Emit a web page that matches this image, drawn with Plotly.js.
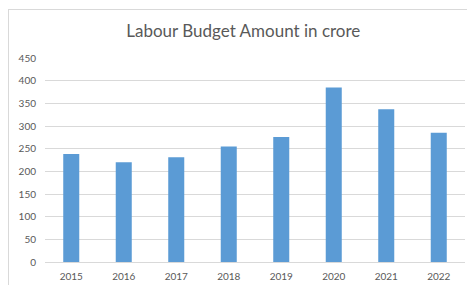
<!DOCTYPE html>
<html><head><meta charset="utf-8">
<script src="https://cdn.plot.ly/plotly-3.0.1.min.js"></script>
<style>
html,body{margin:0;padding:0;background:#fff;overflow:hidden;}
#wrap{position:absolute;left:0;top:0;width:467px;height:285px;}
#frame{position:absolute;left:8px;top:9px;width:470px;height:290px;border:1px solid #d9d9d9;box-sizing:border-box;pointer-events:none;}
#chart{position:absolute;left:0;top:0;width:467px;height:285px;}
</style></head>
<body><div id="wrap"><div id="chart"></div><div id="frame"></div></div>
<script>
const years = ['2015','2016','2017','2018','2019','2020','2021','2022'];
const amounts = [238, 220, 231, 255, 276, 385, 337, 285];
const yTicks = [0,50,100,150,200,250,300,350,400,450];
const chartTitle = 'Labour Budget Amount in crore';

Plotly.newPlot('chart', [{
  type:'bar', x: years, y: amounts,
  marker:{color:'#5B9BD5'}, hoverinfo:'none'
}], {
  width:467, height:285,
  margin:{l:45, r:2, t:57.6, b:23.3, pad:0},
  paper_bgcolor:'#fff', plot_bgcolor:'#fff',
  bargap:0.695,
  showlegend:false,
  font:{family:'Lato, "Open Sans", sans-serif', color:'#595959', size:10},
  title:{text:chartTitle, x:0.521, xanchor:'center', y:0.89, yanchor:'middle', font:{size:17, color:'#595959', family:'Lato, sans-serif'}},
  xaxis:{type:'category', showgrid:false, zeroline:false, showline:true, linecolor:'#d9d9d9', linewidth:1, ticks:'', ticklabelstandoff:5, tickfont:{size:10, color:'#595959'}},
  yaxis:{range:[0,450], tickvals:yTicks, showgrid:true, gridcolor:'#d9d9d9', gridwidth:1, zeroline:false, showline:false, ticks:'', ticklabelstandoff:8, tickfont:{size:10, color:'#595959'}}
}, {staticPlot:true, displayModeBar:false});
</script></body></html>
